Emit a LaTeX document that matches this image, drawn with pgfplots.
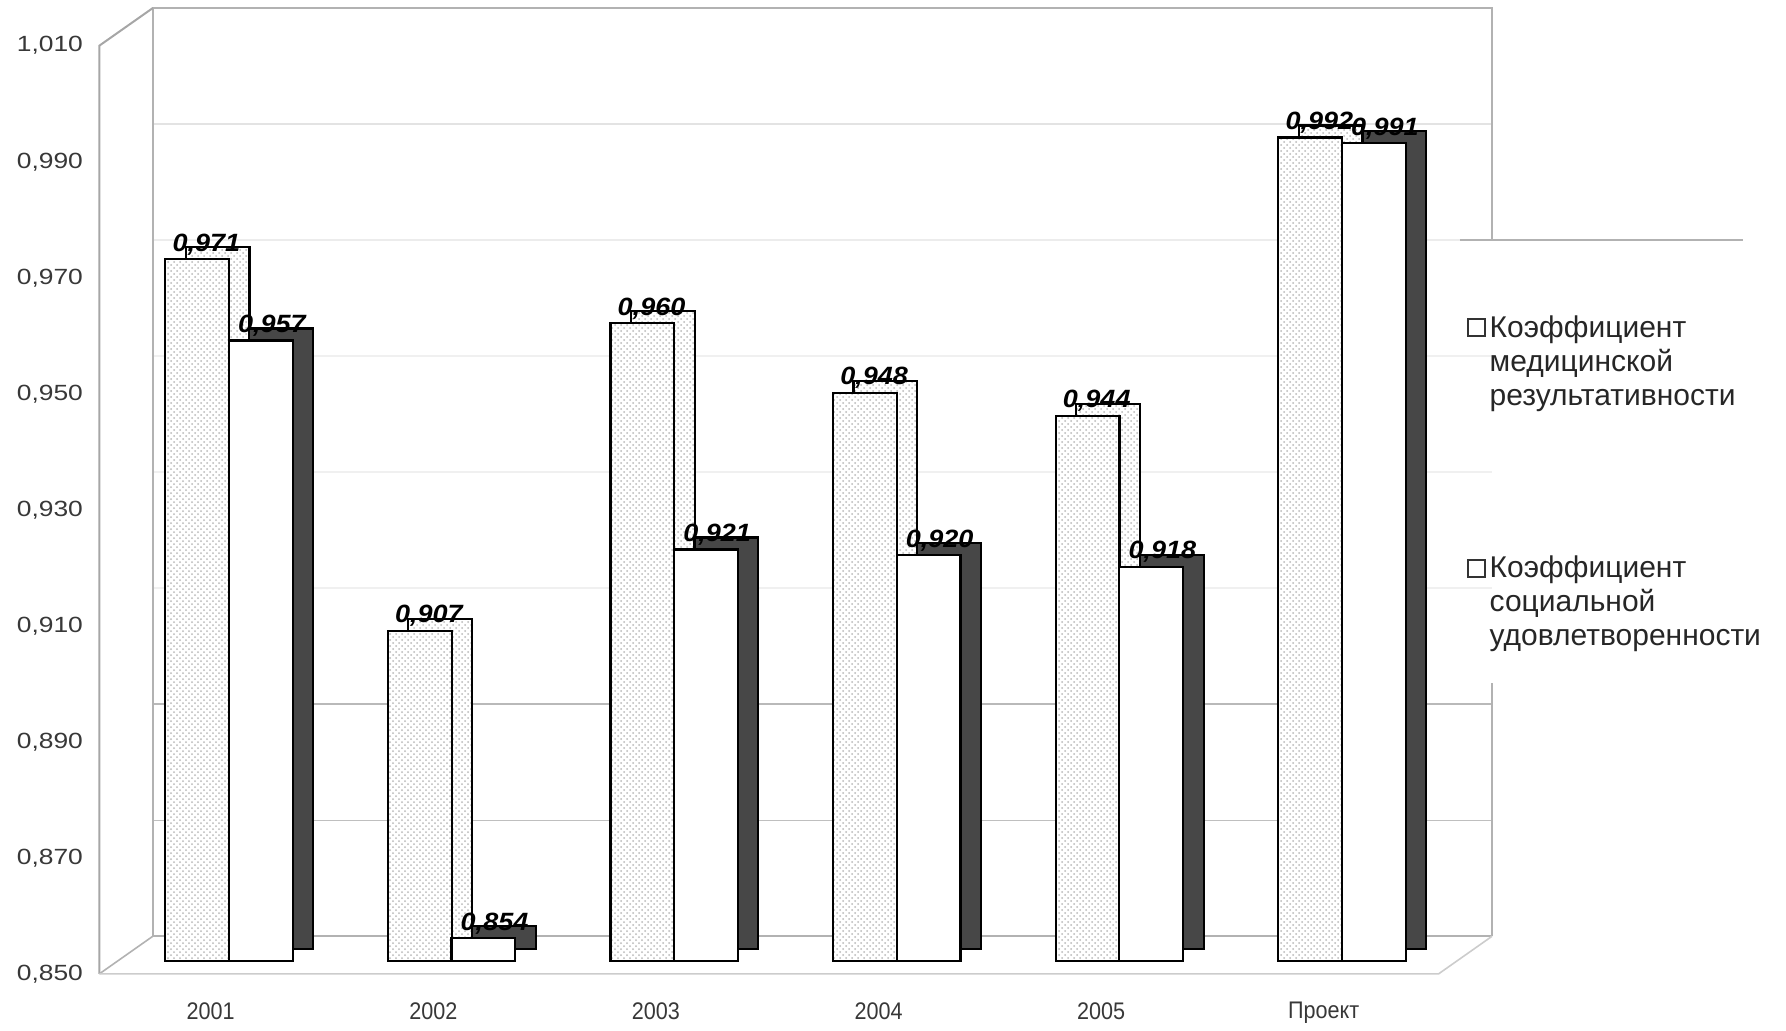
\documentclass[border=0pt]{standalone}
\usepackage{fontspec}
\setmainfont{Liberation Sans}
\newfontfamily\ytickfont[FakeStretch=1.2]{Liberation Sans}
\newfontfamily\xtickfont[FakeStretch=0.9]{Liberation Sans}
\newfontfamily\labfont[FakeStretch=1.08]{Liberation Sans}
\usepackage{pgfplots}
\pgfplotsset{compat=1.18}
\usepackage{pgfplotstable}
\usetikzlibrary{patterns}

\pgfplotstableread{
x med soc
0 0.971 0.957
1 0.907 0.854
2 0.960 0.921
3 0.948 0.920
4 0.944 0.918
5 0.992 0.991
}\datatab

\begin{document}
\begin{tikzpicture}
\useasboundingbox (-49.7pt,-34.35pt) rectangle (843.3pt,480.65pt);
\begin{axis}[
  at={(0,0)}, anchor=south west,
  width=669.6pt, height=464.1pt, scale only axis,
  xmin=-0.5, xmax=5.516, ymin=0.850, ymax=1.010,
  clip mode=individual,
  axis line style={draw=none}, tick style={draw=none},
  xtick={0,1,2,3,4,5},
  xticklabels={2001,2002,2003,2004,2005,Проект},
  ytick={0.85,0.87,0.89,0.91,0.93,0.95,0.97,0.99,1.01},
  /pgf/number format/.cd, fixed, fixed zerofill, precision=3, use comma, assume math mode=true,
  /pgfplots/.cd,
  yticklabel style={font=\ytickfont\fontsize{11}{13}\selectfont, text=black!78, xshift=-4.7pt, yshift=-6.3pt},
  xticklabel style={font=\xtickfont\fontsize{12}{14}\selectfont, text=black!78, yshift=-17pt},
  bar width=0.2866,
  legend style={at={(1.0165,0.705)}, anchor=north west, draw=none, fill=none,
    font=\fontsize{15}{17}\selectfont, text=black!85, row sep=70pt,
    cells={align=left}},
  legend cell align=left,
]
% back wall and floor
\draw[gray!12, line width=0.7pt] (axis cs:-0.26,0.91432) -- (axis cs:5.756,0.91432);
\draw[gray!12, line width=0.7pt] (axis cs:-0.26,0.93432) -- (axis cs:5.756,0.93432);
\draw[gray!12, line width=0.7pt] (axis cs:-0.26,0.95432) -- (axis cs:5.756,0.95432);
\draw[gray!15, line width=0.7pt] (axis cs:-0.26,0.97432) -- (axis cs:5.756,0.97432);
\draw[gray!22, line width=0.7pt] (axis cs:-0.26,0.99432) -- (axis cs:5.756,0.99432);
\draw[gray!50, line width=0.7pt] (axis cs:-0.26,0.87432) -- (axis cs:5.756,0.87432);
\draw[gray!55, line width=0.7pt] (axis cs:-0.26,0.89432) -- (axis cs:5.756,0.89432);
\draw[gray!60, line width=0.8pt] (axis cs:-0.26,0.85432) -- (axis cs:5.756,0.85432);
\draw[gray!60, line width=0.8pt] (axis cs:-0.26,0.85432) -- (axis cs:-0.26,1.01432) -- (axis cs:5.756,1.01432) -- (axis cs:5.756,0.97434);
\draw[gray!60, line width=0.8pt] (axis cs:5.756,0.8979) -- (axis cs:5.756,0.85432);
\draw[gray!60, line width=0.8pt] (axis cs:5.612,0.97434) -- (axis cs:6.884,0.97434);
\draw[gray!70, line width=1pt] (axis cs:-0.5,0.84784) -- (axis cs:-0.5,1.00784) -- (axis cs:-0.26,1.01432);
\draw[gray!60, line width=0.8pt] (axis cs:-0.5,0.84784) -- (axis cs:-0.26,0.85432);
\draw[gray!40, line width=0.8pt] (axis cs:-0.5,0.84784) -- (axis cs:5.516,0.84784) -- (axis cs:5.756,0.85432);

% series 1 depth
\addplot[ybar, forget plot, bar shift=0.031, yshift=6pt, draw=black, line width=1.1pt,
  fill=white, postaction={pattern=crosshatch dots, pattern color=gray!55}]
  table[x=x, y=med] {\datatab};
% series 1 front
\addplot[ybar, forget plot, bar shift=-0.061, draw=black, line width=1.1pt,
  fill=white, postaction={pattern=crosshatch dots, pattern color=gray!55},
  nodes near coords={\pgfmathprintnumber[assume math mode=true]{\pgfplotspointmeta}},
  every node near coord/.append style={anchor=base, xshift=-2.2pt, yshift=4pt,
    font=\labfont\bfseries\itshape\fontsize{12.5}{14}\selectfont, text=black}]
  table[x=x, y=med] {\datatab};
% series 2 depth
\addplot[ybar, forget plot, bar shift=0.317, yshift=6pt, draw=black, line width=1.1pt,
  fill=black!72]
  table[x=x, y=soc] {\datatab};
% series 2 front
\addplot[ybar, forget plot, bar shift=0.225, draw=black, line width=1.1pt,
  fill=white,
  nodes near coords={\pgfmathprintnumber[assume math mode=true]{\pgfplotspointmeta}},
  every node near coord/.append style={anchor=base, xshift=30.6pt, yshift=4pt,
    font=\labfont\bfseries\itshape\fontsize{12.5}{14}\selectfont, text=black}]
  table[x=x, y=soc] {\datatab};

\addlegendimage{legend image code/.code={\path[draw=none, fill=none] (0pt,-21.2pt) rectangle (8.4pt,21.2pt); \draw[black!80, fill=white, line width=0.9pt] (0pt,12.8pt) rectangle (8.4pt,21.2pt);}}
\addlegendentry{Коэффициент\\медицинской\\результативности}
\addlegendimage{legend image code/.code={\path[draw=none, fill=none] (0pt,-21.2pt) rectangle (8.4pt,21.2pt); \draw[black!80, fill=white, line width=0.9pt] (0pt,12.8pt) rectangle (8.4pt,21.2pt);}}
\addlegendentry{Коэффициент\\социальной\\удовлетворенности}
\end{axis}
\end{tikzpicture}
\end{document}
